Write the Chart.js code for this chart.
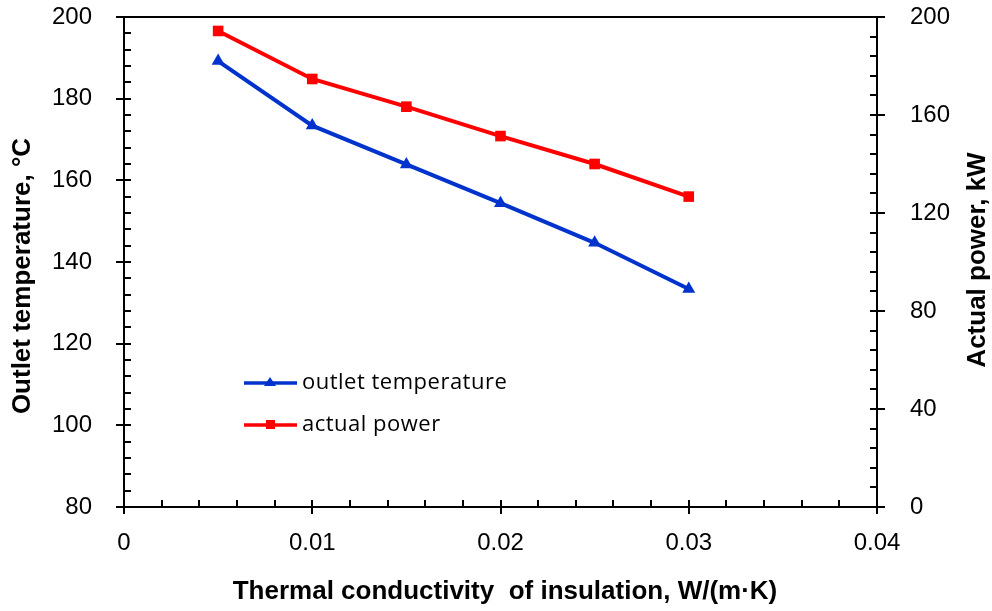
<!DOCTYPE html>
<html>
<head>
<meta charset="utf-8">
<script src="https://cdn.jsdelivr.net/npm/chart.js@4.4.1/dist/chart.umd.min.js"></script>
<style>
  html, body { margin: 0; padding: 0; background: #fff; }
  #wrap { width: 992px; height: 611px; }
</style>
</head>
<body>
<div id="wrap"><canvas id="myChart" width="992" height="611"></canvas></div>
<script>
// data
const conductivity = [0.005, 0.01, 0.015, 0.02, 0.025, 0.03];
const outletTemp = [189.2, 173.4, 163.9, 154.4, 144.7, 133.4];
const actualPower = [194.3, 174.7, 163.4, 151.4, 140.0, 126.7];

const xTicks = [0, 0.01, 0.02, 0.03, 0.04];
const leftTicks = [80, 100, 120, 140, 160, 180, 200];
const rightTicks = [0, 40, 80, 120, 160, 200];

const blue = '#0033cc';
const red = '#ff0000';
const tickFont = { family: 'Liberation Sans', size: 24 };

// tick marks, frame, titles and legend
const decorPlugin = {
  id: 'decor',
  afterDraw(chart) {
    const ctx = chart.ctx;
    const a = chart.chartArea;
    const x = chart.scales.x, yl = chart.scales.y, yr = chart.scales.y2;
    ctx.save();
    ctx.strokeStyle = '#000';
    ctx.lineWidth = 2;
    ctx.beginPath();
    ctx.moveTo(a.left, a.top); ctx.lineTo(a.right, a.top);
    ctx.moveTo(a.left, a.top); ctx.lineTo(a.left, a.bottom);
    ctx.lineTo(a.right, a.bottom); ctx.lineTo(a.right, a.top);
    // x ticks
    for (let v = 0; v <= 0.04 + 1e-9; v += 0.002) {
      const px = Math.round(x.getPixelForValue(v));
      const major = Math.abs(v / 0.01 - Math.round(v / 0.01)) < 1e-6;
      ctx.moveTo(px, a.bottom - 7);
      ctx.lineTo(px, a.bottom + (major ? 7 : 0));
    }
    // left ticks
    for (let v = 80; v <= 200; v += 4) {
      const py = Math.round(yl.getPixelForValue(v));
      const major = v % 20 === 0;
      ctx.moveTo(a.left + 7, py);
      ctx.lineTo(a.left - (major ? 8 : 0), py);
    }
    // right ticks
    for (let v = 0; v <= 200; v += 8) {
      const py = Math.round(yr.getPixelForValue(v));
      const major = v % 40 === 0;
      ctx.moveTo(a.right - 7, py);
      ctx.lineTo(a.right + (major ? 8 : 0), py);
    }
    ctx.stroke();

    // axis titles
    ctx.fillStyle = '#000';
    ctx.font = 'bold 26px "Liberation Sans"';
    ctx.textAlign = 'center';
    ctx.textBaseline = 'middle';
    ctx.fillText('Thermal conductivity  of insulation, W/(m\u00b7K)', 505, 592);
    ctx.save();
    ctx.translate(23, 276);
    ctx.rotate(-Math.PI / 2);
    ctx.fillText('Outlet temperature, \u00b0C', 0, 0);
    ctx.restore();
    ctx.save();
    ctx.translate(978, 260);
    ctx.rotate(-Math.PI / 2);
    ctx.fillText('Actual power, kW', 0, 0);
    ctx.restore();

    // legend
    const items = [
      { label: 'outlet temperature', color: blue, shape: 'tri', y: 383 },
      { label: 'actual power', color: red, shape: 'sq', y: 425 }
    ];
    ctx.font = '22px "Open Sans"';
    ctx.letterSpacing = '0.5px';
    ctx.textAlign = 'left';
    items.forEach(it => {
      ctx.strokeStyle = it.color;
      ctx.fillStyle = it.color;
      ctx.lineWidth = 3.5;
      ctx.beginPath();
      ctx.moveTo(244, it.y); ctx.lineTo(297, it.y);
      ctx.stroke();
      ctx.beginPath();
      if (it.shape === 'tri') {
        ctx.moveTo(270, it.y - 6); ctx.lineTo(276, it.y + 3); ctx.lineTo(264, it.y + 3);
      } else {
        ctx.rect(266, it.y - 5, 9, 9);
      }
      ctx.fill();
      ctx.fillStyle = '#000';
      ctx.fillText(it.label, 302, it.y);
    });
    ctx.restore();
  }
};

const noPad = (s) => { s.paddingTop = 0; s.paddingBottom = 0; };

new Chart(document.getElementById('myChart'), {
  type: 'scatter',
  data: {
    datasets: [
      {
        label: 'outlet temperature',
        data: conductivity.map((c, i) => ({ x: c, y: outletTemp[i] })),
        yAxisID: 'y',
        showLine: true,
        borderColor: blue,
        backgroundColor: blue,
        borderWidth: 4,
        pointStyle: 'triangle',
        pointRadius: 7.5,
        pointBorderWidth: 0
      },
      {
        label: 'actual power',
        data: conductivity.map((c, i) => ({ x: c, y: actualPower[i] })),
        yAxisID: 'y2',
        showLine: true,
        borderColor: red,
        backgroundColor: red,
        borderWidth: 4,
        pointStyle: 'rect',
        pointRadius: 7.5,
        pointBorderWidth: 0
      }
    ]
  },
  options: {
    responsive: false,
    animation: false,
    layout: { padding: { top: 17 } },
    plugins: { legend: { display: false }, tooltip: { enabled: false } },
    scales: {
      x: {
        type: 'linear',
        min: 0, max: 0.04,
        afterFit: (s) => { s.height = 104; s.paddingLeft = 0; s.paddingRight = 0; },
        afterBuildTicks: (s) => { s.ticks = xTicks.map(v => ({ value: v })); },
        grid: { display: false },
        border: { display: false },
        ticks: { color: '#000', font: tickFont, padding: 14, maxRotation: 0,
          callback: (v) => v === 0 ? '0' : v.toFixed(2) }
      },
      y: {
        position: 'left',
        min: 80, max: 200,
        afterFit: (s) => { s.width = 124; noPad(s); },
        afterBuildTicks: (s) => { s.ticks = leftTicks.map(v => ({ value: v })); },
        grid: { display: false },
        border: { display: false },
        ticks: { color: '#000', font: tickFont, padding: 24 }
      },
      y2: {
        position: 'right',
        min: 0, max: 200,
        afterFit: (s) => { s.width = 115; noPad(s); },
        afterBuildTicks: (s) => { s.ticks = rightTicks.map(v => ({ value: v })); },
        grid: { display: false },
        border: { display: false },
        ticks: { color: '#000', font: tickFont, padding: 25 }
      }
    }
  },
  plugins: [decorPlugin]
});
</script>
</body>
</html>
